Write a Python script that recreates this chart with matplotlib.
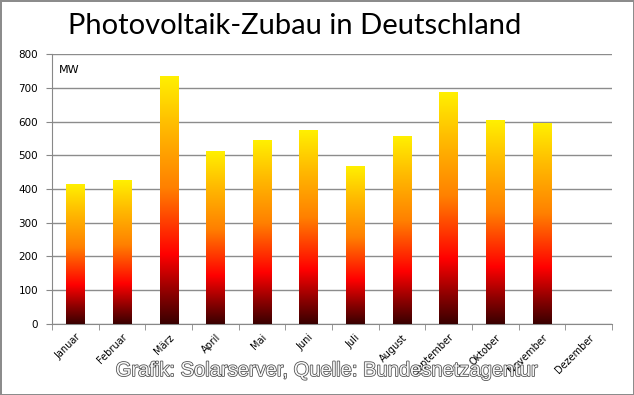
import numpy as np
import matplotlib
matplotlib.use("Agg")
import matplotlib.pyplot as plt
from matplotlib.colors import LinearSegmentedColormap
import matplotlib.patheffects as pe

plt.rcParams["image.composite_image"] = False

months = ["Januar", "Februar", "März", "April", "Mai", "Juni", "Juli",
          "August", "September", "Oktober", "November", "Dezember"]
values_mw = [415, 427, 735, 513, 545, 575, 468, 557, 687, 604, 596, 0]
yticks = [0, 100, 200, 300, 400, 500, 600, 700, 800]

fig = plt.figure(figsize=(6.34, 3.95), dpi=100)
fig.patch.set_facecolor("white")
fig.patch.set_edgecolor("#8c8c8c")
fig.patch.set_linewidth(2)
ax = fig.add_axes([0.082, 0.180, 0.883, 0.683])

x = np.arange(len(months))
bars = ax.bar(x, values_mw, width=0.39, color="none", edgecolor="none", zorder=3)

cmap = LinearSegmentedColormap.from_list(
    "pv", [(0.0, "#3a0000"), (0.12, "#8a0000"), (0.28, "#ff0000"),
           (0.55, "#ff8000"), (0.8, "#ffbb00"), (1.0, "#fff000")])
grad = np.linspace(0, 1, 256).reshape(-1, 1)
for b in bars:
    h = b.get_height()
    if h <= 0:
        continue
    x0 = b.get_x()
    w = b.get_width()
    ax.imshow(grad, extent=[x0, x0 + w, 0, h], origin="lower", aspect="auto",
              cmap=cmap, zorder=5, interpolation="bilinear")

ax.set_xlim(-0.5, len(months) - 0.5)
ax.set_ylim(0, 800)
ax.set_yticks(yticks)
ax.tick_params(axis="y", labelsize=7.5, length=4, color="#888888", pad=6)
ax.yaxis.grid(True, color="#8c8c8c", linewidth=1)
ax.set_axisbelow(True)

ax.set_xticks(x)
ax.set_xticklabels(months, rotation=45, ha="right", rotation_mode="anchor", fontsize=7)
ax.tick_params(axis="x", which="major", length=0, pad=6)
ax.set_xticks(np.arange(-0.5, len(months)), minor=True)
ax.tick_params(axis="x", which="minor", length=4, color="#888888")

for s in ["top", "right"]:
    ax.spines[s].set_visible(False)
ax.spines["left"].set_color("#888888")
ax.spines["bottom"].set_color("#888888")

ax.text(0.012, 0.94, "MW", transform=ax.transAxes, fontsize=8, va="center", ha="left")

fig.text(0.465, 0.935, "Photovoltaik-Zubau in Deutschland", fontsize=21,
         family="Lato", ha="center", va="center")

fig.text(0.516, 0.062, "Grafik: Solarserver, Quelle: Bundesnetzagentur", fontsize=14.5,
         family="Liberation Sans", ha="center", va="center", color="#f7f7f7",
         path_effects=[pe.withStroke(linewidth=1.1, foreground="#4a4a4a")], zorder=10)

fig.savefig("out.png", dpi=100)
